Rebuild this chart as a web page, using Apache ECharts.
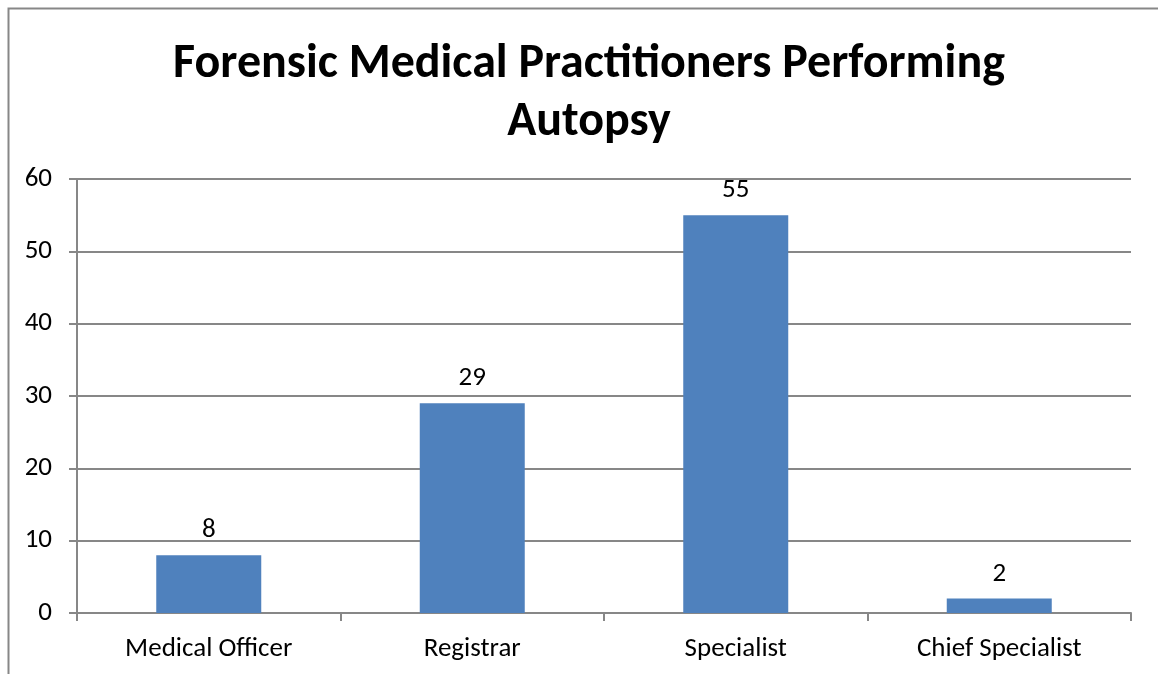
<!DOCTYPE html>
<html>
<head>
<meta charset="utf-8">
<script src="https://cdn.jsdelivr.net/npm/echarts@6/dist/echarts.min.js"></script>
<style>
  html, body { margin: 0; padding: 0; background: #fff; }
  #chart { width: 1158px; height: 674px; }
</style>
</head>
<body>
<div id="chart"></div>
<script>
var titleText = 'Forensic Medical Practitioners Performing\nAutopsy';
var categories = ['Medical Officer', 'Registrar', 'Specialist', 'Chief Specialist'];
var counts = [8, 29, 55, 2];
var yTicks = { min: 0, max: 60, interval: 10 };

var font = 'Carlito, Calibri, Lato, sans-serif';
var gray = '#878787';

var myChart = echarts.init(document.getElementById('chart'));
myChart.setOption({
    animation: false,
    textStyle: { fontFamily: font },
    title: {
        text: titleText,
        left: 584,
        top: 31,
        textAlign: 'center',
        textStyle: {
            fontFamily: font,
            fontSize: 48,
            fontWeight: 'bold',
            color: '#000',
            lineHeight: 58
        }
    },
    graphic: [{
        type: 'rect',
        shape: { x: 8.5, y: 8.5, width: 1300, height: 800 },
        style: { fill: 'none', stroke: gray, lineWidth: 2 },
        silent: true
    }],
    grid: { left: 77, right: 27, top: 179, bottom: 61 },
    xAxis: {
        type: 'category',
        data: categories,
        axisLine: { lineStyle: { color: gray, width: 2 } },
        axisTick: { show: true, length: 8, lineStyle: { color: gray, width: 2 } },
        axisLabel: { color: '#000', fontSize: 27, margin: 23, fontFamily: font }
    },
    yAxis: {
        type: 'value',
        min: yTicks.min,
        max: yTicks.max,
        interval: yTicks.interval,
        axisLine: { show: true, lineStyle: { color: gray, width: 2 } },
        axisTick: { show: true, length: 8, lineStyle: { color: gray, width: 2 } },
        axisLabel: { color: '#000', fontSize: 27, margin: 25, fontFamily: font },
        splitLine: { lineStyle: { color: gray, width: 2 } }
    },
    series: [{
        type: 'bar',
        data: counts,
        barWidth: 105,
        itemStyle: { color: '#4F81BD' },
        label: {
            show: true,
            position: 'top',
            distance: 11,
            color: '#000',
            fontSize: 27,
            fontFamily: font
        }
    }]
});
</script>
</body>
</html>
